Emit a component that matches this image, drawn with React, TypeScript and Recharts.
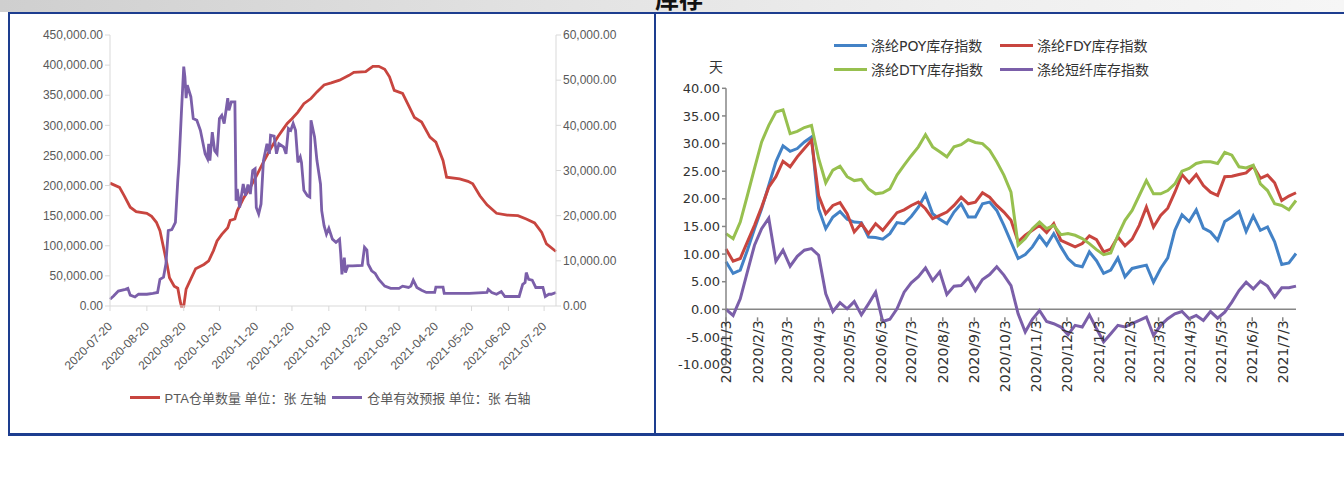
import React from 'react';
import { LineChart, Line, XAxis, YAxis, Legend, ReferenceLine } from 'recharts';

// ---- left chart: PTA warehouse receipts (left axis) and valid forecasts (right axis)
const ptaDates = [
  '2020-07-20', '2020-07-28', '2020-08-01', '2020-08-06', '2020-08-11', '2020-08-20', '2020-08-24', '2020-08-28',
  '2020-08-31', '2020-09-03', '2020-09-06', '2020-09-08', '2020-09-12', '2020-09-15', '2020-09-17', '2020-09-18',
  '2020-09-20', '2020-09-22', '2020-09-26', '2020-09-30', '2020-10-07', '2020-10-11', '2020-10-15', '2020-10-18',
  '2020-10-22', '2020-10-27', '2020-10-29', '2020-11-02', '2020-11-04', '2020-11-09', '2020-11-15', '2020-11-21',
  '2020-11-26', '2020-12-02', '2020-12-08', '2020-12-12', '2020-12-16', '2020-12-20', '2020-12-25', '2020-12-30',
  '2021-01-05', '2021-01-10', '2021-01-16', '2021-01-22', '2021-01-29', '2021-02-06', '2021-02-10', '2021-02-20',
  '2021-02-26', '2021-03-03', '2021-03-08', '2021-03-12', '2021-03-16', '2021-03-23', '2021-03-28', '2021-04-02',
  '2021-04-08', '2021-04-15', '2021-04-20', '2021-04-26', '2021-04-29', '2021-05-10', '2021-05-17', '2021-05-21',
  '2021-05-27', '2021-06-02', '2021-06-10', '2021-06-19', '2021-06-28', '2021-07-05', '2021-07-12', '2021-07-18',
  '2021-07-22', '2021-07-30',
];
const ptaValues = [
  204000, 197000, 183000, 164000, 156700, 154000, 149000, 139000,
  125000, 97000, 69000, 47000, 33000, 29500, 8000, 0,
  0, 28000, 45000, 62000, 69000, 75000, 92000, 108000,
  119000, 130000, 142000, 144500, 158000, 178000, 197000, 219500,
  239000, 261000, 280500, 292000, 303000, 311000, 322000, 336000,
  344500, 355500, 367000, 370500, 375000, 383000, 388000, 389000,
  398000, 398000, 393000, 380500, 358000, 353000, 333000, 313000,
  305500, 280500, 272000, 241700, 214000, 211000, 207000, 203000,
  183000, 168000, 154000, 151000, 150000, 144500, 138000, 122000,
  103000, 90500,
];
const forecastDates = [
  '2020-07-20', '2020-07-23', '2020-07-27', '2020-08-02', '2020-08-04', '2020-08-06', '2020-08-10', '2020-08-13',
  '2020-08-20', '2020-08-25', '2020-08-29', '2020-08-31', '2020-09-03', '2020-09-05', '2020-09-07', '2020-09-10',
  '2020-09-13', '2020-09-15', '2020-09-16', '2020-09-18', '2020-09-20', '2020-09-21', '2020-09-22', '2020-09-23',
  '2020-09-26', '2020-09-28', '2020-10-01', '2020-10-04', '2020-10-08', '2020-10-10', '2020-10-11', '2020-10-12',
  '2020-10-14', '2020-10-16', '2020-10-18', '2020-10-20', '2020-10-22', '2020-10-24', '2020-10-27', '2020-10-28',
  '2020-10-30', '2020-11-02', '2020-11-03', '2020-11-04', '2020-11-06', '2020-11-09', '2020-11-11', '2020-11-13',
  '2020-11-15', '2020-11-17', '2020-11-19', '2020-11-20', '2020-11-22', '2020-11-24', '2020-11-26', '2020-11-29',
  '2020-12-01', '2020-12-02', '2020-12-05', '2020-12-07', '2020-12-09', '2020-12-13', '2020-12-15', '2020-12-17',
  '2020-12-19', '2020-12-21', '2020-12-23', '2020-12-25', '2020-12-27', '2020-12-28', '2020-12-30', '2021-01-02',
  '2021-01-04', '2021-01-05', '2021-01-08', '2021-01-10', '2021-01-13', '2021-01-14', '2021-01-16', '2021-01-18',
  '2021-01-20', '2021-01-23', '2021-01-26', '2021-01-29', '2021-01-30', '2021-01-31', '2021-02-02', '2021-02-03',
  '2021-02-05', '2021-02-09', '2021-02-17', '2021-02-19', '2021-02-21', '2021-02-22', '2021-02-25', '2021-02-28',
  '2021-03-03', '2021-03-08', '2021-03-13', '2021-03-20', '2021-03-23', '2021-03-28', '2021-03-30', '2021-04-01',
  '2021-04-04', '2021-04-08', '2021-04-12', '2021-04-19', '2021-04-20', '2021-04-26', '2021-04-27', '2021-05-18',
  '2021-06-02', '2021-06-03', '2021-06-06', '2021-06-10', '2021-06-14', '2021-06-17', '2021-06-29', '2021-07-02',
  '2021-07-04', '2021-07-05', '2021-07-07', '2021-07-10', '2021-07-13', '2021-07-19', '2021-07-21', '2021-07-24',
  '2021-07-26', '2021-07-30',
];
const forecastValues = [
  1500, 2200, 3300, 3700, 3900, 2400, 2000, 2600,
  2600, 2800, 3000, 5900, 6400, 9300, 16700, 16900,
  18500, 27800, 31500, 42600, 53000, 50700, 46000, 48900,
  46300, 41500, 41100, 38900, 33700, 32600, 35900, 32200,
  38500, 34400, 33700, 41500, 42200, 40400, 46000, 43300,
  45200, 45200, 23300, 25900, 21800, 27000, 24400, 26900,
  24800, 30000, 30400, 21800, 20400, 22600, 32200, 35900,
  33700, 37800, 37600, 33700, 35900, 35200, 33700, 39300,
  38900, 40400, 38900, 31800, 33000, 31800, 25600, 24400,
  24100, 41100, 37400, 32200, 27000, 21100, 17800, 15900,
  17200, 14800, 14100, 14800, 11500, 7000, 10700, 7400,
  8900, 8900, 9000, 13000, 12400, 9300, 7800, 7200,
  5900, 4400, 3900, 3900, 4400, 4100, 4400, 5700,
  4100, 3500, 3000, 3000, 4200, 4200, 2800, 2800,
  3000, 3700, 3000, 2600, 3200, 2100, 2100, 4800,
  5200, 7400, 5900, 5700, 4100, 4100, 2100, 2600,
  2600, 3000,
];
const ptaTickDates = [
  '2020-07-20', '2020-08-20', '2020-09-20', '2020-10-20', '2020-11-20', '2020-12-20', '2021-01-20',
  '2021-02-20', '2021-03-20', '2021-04-20', '2021-05-20', '2021-06-20', '2021-07-20',
];
const leftAxisTicks = [0, 50000, 100000, 150000, 200000, 250000, 300000, 350000, 400000, 450000];
const rightAxisTicks = [0, 10000, 20000, 30000, 40000, 50000, 60000];

// ---- right chart: weekly polyester inventory index (days), Fridays from 2020-01-03
const WEEK_START = '2020-01-03';
const poyIndex = [
  8.6, 6.5, 7.1, 10.7, 14.6, 18.2, 22.4, 26.7, 29.6, 28.6, 29.1, 30.3, 31.2, 18.2, 14.6, 16.7,
  17.7, 16.3, 15.8, 15.7, 13.1, 13.0, 12.7, 13.7, 15.7, 15.5, 16.8, 18.5, 20.8, 17.3, 16.3, 15.5,
  17.6, 19.1, 16.7, 16.7, 19.1, 19.4, 17.9, 15.2, 12.2, 9.2, 9.9, 11.3, 13.3, 11.6, 13.7, 11.3,
  9.2, 8.0, 7.7, 10.4, 8.8, 6.5, 7.1, 9.3, 5.9, 7.4, 7.7, 8.0, 4.9, 7.4, 9.3, 14.3,
  17.1, 15.9, 18.0, 14.7, 14.0, 12.5, 15.9, 16.7, 17.7, 14.1, 16.9, 14.3, 14.9, 12.2, 8.1, 8.4,
  10.1,
];
const fdyIndex = [
  10.9, 8.7, 9.2, 12.2, 15.2, 18.5, 22.1, 24.0, 26.8, 25.8, 27.6, 29.1, 30.6, 20.6, 17.3, 18.8,
  19.3, 17.3, 14.0, 15.5, 13.7, 15.5, 14.3, 15.9, 17.5, 18.0, 18.8, 19.4, 18.2, 16.4, 17.0, 17.6,
  18.8, 20.3, 19.1, 19.4, 21.1, 20.3, 18.8, 17.6, 16.1, 12.2, 13.4, 14.3, 15.2, 13.9, 15.5, 12.5,
  11.9, 11.3, 11.9, 13.3, 12.6, 10.4, 10.9, 13.1, 11.5, 12.7, 15.2, 18.5, 14.9, 17.0, 18.3, 21.2,
  24.4, 22.9, 24.4, 22.4, 21.2, 20.6, 24.0, 24.1, 24.4, 24.7, 25.9, 23.7, 24.3, 22.9, 19.7, 20.5,
  21.1,
];
const dtyIndex = [
  13.7, 12.8, 15.8, 20.6, 25.5, 30.3, 33.3, 35.7, 36.1, 31.8, 32.2, 32.9, 33.3, 27.3, 22.9, 25.2,
  25.9, 24.0, 23.3, 23.5, 21.8, 20.9, 21.1, 21.8, 24.3, 26.1, 27.8, 29.4, 31.6, 29.4, 28.5, 27.6,
  29.4, 29.8, 30.7, 30.2, 30.0, 28.8, 26.7, 24.3, 21.2, 11.6, 12.8, 14.6, 15.8, 14.6, 15.2, 13.5,
  13.7, 13.4, 12.8, 11.9, 10.8, 9.9, 10.2, 13.4, 16.1, 17.9, 20.6, 23.3, 20.9, 20.9, 21.5, 22.7,
  25.0, 25.5, 26.4, 26.7, 26.7, 26.4, 28.4, 27.9, 25.8, 25.6, 26.1, 22.7, 21.5, 19.1, 18.8, 18.0,
  19.7,
];
const staIndex = [
  0.0, -1.1, 1.9, 6.8, 11.6, 14.6, 16.5, 8.7, 10.7, 7.8, 9.6, 10.7, 11.0, 9.8, 2.8, -0.4,
  1.2, 0.1, 1.4, -1.0, 1.0, 3.1, -2.2, -1.8, 0.1, 3.1, 4.8, 5.9, 7.5, 5.2, 6.8, 2.7,
  4.2, 4.3, 5.7, 3.4, 5.4, 6.3, 7.7, 6.2, 4.3, -0.8, -4.1, -1.8, -0.2, -2.2, -2.6, -3.2,
  -4.6, -2.9, -3.2, -1.0, -3.5, -5.9, -4.4, -2.9, -3.2, -2.6, -2.0, -1.4, -4.7, -2.9, -1.7, -0.8,
  -0.4, -1.7, -1.1, -2.0, -0.4, -1.6, -0.5, 1.3, 3.4, 4.9, 3.7, 5.1, 4.2, 2.2, 3.9, 3.9,
  4.2,
];
const monthTickDates = [
  '2020-01-03', '2020-02-03', '2020-03-03', '2020-04-03', '2020-05-03', '2020-06-03', '2020-07-03',
  '2020-08-03', '2020-09-03', '2020-10-03', '2020-11-03', '2020-12-03', '2021-01-03', '2021-02-03',
  '2021-03-03', '2021-04-03', '2021-05-03', '2021-06-03', '2021-07-03',
];
const dayTicks = [40, 35, 30, 25, 20, 15, 10, 5, 0, -5, -10];

const DAY = 86400000;
const t = (s: string) => Date.parse(s);

const ptaSeries = ptaDates.map((d, i) => ({ t: t(d), v: ptaValues[i] }));
const forecastSeries = forecastDates.map((d, i) => ({ t: t(d), v: forecastValues[i] }));
const weeklyData = poyIndex.map((v, i) => ({
  t: t(WEEK_START) + i * 7 * DAY,
  poy: v,
  fdy: fdyIndex[i],
  dty: dtyIndex[i],
  sta: staIndex[i],
}));

const RED = '#c8453f';
const PURPLE = '#7b5fa9';
const BLUE = '#4382c6';
const GREEN = '#97c04f';
const NAVY = '#1d3d8f';

const LEFT_FONT = "'Liberation Sans', 'Noto Sans CJK SC', sans-serif";
const RIGHT_FONT = "'DejaVu Sans', 'Noto Sans CJK SC', sans-serif";

// right chart layout, the x axis labels sit on the zero line
const R_W = 684;
const R_H = 420;
const R_TOP = 75.3;
const R_PLOT_H = 276.3;
const R_MIN = -10;
const R_MAX = 40;
const ZERO_SHIFT = (R_PLOT_H * (0 - R_MIN)) / (R_MAX - R_MIN);

const money = (v: number) => v.toLocaleString('en-US', { minimumFractionDigits: 2, maximumFractionDigits: 2 });
const slashDate = (v: number) => {
  const d = new Date(v);
  return `${d.getUTCFullYear()}/${d.getUTCMonth() + 1}/${d.getUTCDate()}`;
};

const PtaTick = (props: any) => {
  const { x, y, payload } = props;
  return (
    <text
      transform={`translate(${x + 3},${y + 14}) rotate(-45)`}
      textAnchor="end"
      fill="#595959"
      fontSize={12}
      fontFamily={LEFT_FONT}
    >
      {new Date(payload.value).toISOString().slice(0, 10)}
    </text>
  );
};

const WeekTick = (props: any) => {
  const { x, y, payload } = props;
  return (
    <g transform={`translate(${x},${y - ZERO_SHIFT})`}>
      <line x1={0} y1={0} x2={0} y2={4} stroke="#868686" strokeWidth={1.5} />
      <text
        transform="rotate(-90)"
        x={-3}
        y={5}
        textAnchor="end"
        fill="#333"
        fontSize={14}
        fontFamily={RIGHT_FONT}
      >
        {slashDate(payload.value)}
      </text>
    </g>
  );
};

const Swatch = ({ color }: { color: string }) => (
  <span style={{ display: 'inline-block', width: 30, height: 3, background: color, marginRight: 5 }} />
);

const LeftLegend = () => (
  <div
    style={{
      display: 'flex',
      justifyContent: 'center',
      alignItems: 'center',
      fontSize: 13,
      color: '#595959',
      fontFamily: LEFT_FONT,
      whiteSpace: 'nowrap',
    }}
  >
    <Swatch color={RED} />
    <span>PTA仓单数量 单位：张 左轴</span>
    <span style={{ width: 6 }} />
    <Swatch color={PURPLE} />
    <span>仓单有效预报 单位：张 右轴</span>
  </div>
);

const rightLegendItems = [
  { name: '涤纶POY库存指数', color: BLUE },
  { name: '涤纶FDY库存指数', color: RED },
  { name: '涤纶DTY库存指数', color: GREEN },
  { name: '涤纶短纤库存指数', color: PURPLE },
];

const RightLegend = () => (
  <div
    style={{
      display: 'grid',
      gridTemplateColumns: '166px 170px',
      rowGap: 4,
      fontSize: 14,
      color: '#333',
      fontFamily: RIGHT_FONT,
      whiteSpace: 'nowrap',
    }}
  >
    {rightLegendItems.map((it) => (
      <div key={it.name} style={{ display: 'flex', alignItems: 'center', height: 20 }}>
        <span style={{ display: 'inline-block', width: 33, height: 3, background: it.color, marginRight: 4 }} />
        <span>{it.name}</span>
      </div>
    ))}
  </div>
);

export default function App() {
  return (
    <div
      style={{
        position: 'absolute',
        left: 0,
        top: 0,
        width: 1344,
        height: 484,
        background: '#fff',
        overflow: 'hidden',
      }}
    >
      {/* header band with the cut-off section title */}
      <div
        style={{
          position: 'absolute',
          left: 0,
          top: 0,
          width: 1344,
          height: 12,
          overflow: 'hidden',
          background: 'linear-gradient(to right, #cfcfcf, #e4e4e4 45%, #eeeeee 70%, #f6f6f6)',
        }}
      >
        <div
          style={{
            position: 'absolute',
            left: 655,
            top: -15,
            fontSize: 24,
            lineHeight: '26px',
            fontWeight: 'bold',
            color: '#111',
            fontFamily: "'Noto Sans CJK SC', sans-serif",
          }}
        >
          库存
        </div>
      </div>
      <div style={{ position: 'absolute', left: 8, top: 12, width: 1336, height: 2, background: NAVY }} />
      <div style={{ position: 'absolute', left: 8, top: 12, width: 2, height: 424, background: NAVY }} />
      <div style={{ position: 'absolute', left: 654, top: 12, width: 1.5, height: 424, background: NAVY }} />
      <div style={{ position: 'absolute', left: 8, top: 433, width: 1336, height: 3, background: NAVY }} />

      {/* left chart */}
      <div style={{ position: 'absolute', left: 10, top: 14 }}>
        <LineChart width={640} height={420} margin={{ top: 21, right: 14, bottom: 0, left: 0 }}>
          <XAxis
            dataKey="t"
            type="number"
            domain={[t(ptaTickDates[0]), t(ptaDates[ptaDates.length - 1])]}
            ticks={ptaTickDates.map(t)}
            tick={<PtaTick />}
            height={128}
            axisLine={{ stroke: '#d9d9d9' }}
            tickLine={{ stroke: '#d9d9d9' }}
            tickSize={5}
            interval={0}
          />
          <YAxis
            yAxisId="left"
            domain={[0, 450000]}
            ticks={leftAxisTicks}
            tickFormatter={money}
            width={100}
            tick={{ fill: '#595959', fontSize: 12, fontFamily: LEFT_FONT }}
            axisLine={{ stroke: '#d9d9d9' }}
            tickLine={{ stroke: '#d9d9d9' }}
            tickSize={5}
            interval={0}
          />
          <YAxis
            yAxisId="right"
            orientation="right"
            domain={[0, 60000]}
            ticks={rightAxisTicks}
            tickFormatter={money}
            width={80}
            tick={{ fill: '#595959', fontSize: 12, fontFamily: LEFT_FONT }}
            axisLine={{ stroke: '#d9d9d9' }}
            tickLine={{ stroke: '#d9d9d9' }}
            tickSize={5}
            interval={0}
          />
          <Legend
            content={<LeftLegend />}
            verticalAlign="middle"
            align="center"
            layout="horizontal"
            wrapperStyle={{ top: 374, left: 0, width: 640 }}
          />
          <Line
            yAxisId="left"
            data={ptaSeries}
            dataKey="v"
            stroke={RED}
            strokeWidth={2.8}
            dot={false}
            isAnimationActive={false}
          />
          <Line
            yAxisId="right"
            data={forecastSeries}
            dataKey="v"
            stroke={PURPLE}
            strokeWidth={2.8}
            dot={false}
            isAnimationActive={false}
          />
        </LineChart>
      </div>

      {/* right chart */}
      <div style={{ position: 'absolute', left: 660, top: 13 }}>
        <LineChart
          width={R_W}
          height={R_H}
          data={weeklyData}
          margin={{ top: R_TOP, right: 48, bottom: 0, left: 6 }}
        >
          <XAxis
            dataKey="t"
            type="number"
            domain={['dataMin', 'dataMax']}
            ticks={monthTickDates.map(t)}
            tick={<WeekTick />}
            height={R_H - R_TOP - R_PLOT_H}
            axisLine={false}
            tickLine={false}
            interval={0}
          />
          <YAxis
            domain={[R_MIN, R_MAX]}
            ticks={dayTicks}
            tickFormatter={(v: number) => v.toFixed(2)}
            width={60}
            tick={{ fill: '#333', fontSize: 13, fontFamily: RIGHT_FONT }}
            axisLine={{ stroke: '#868686', strokeWidth: 1.5 }}
            tickLine={{ stroke: '#868686', strokeWidth: 1.5 }}
            tickSize={4}
            interval={0}
            label={{
              content: (p: any) => (
                <text
                  x={p.viewBox.x + p.viewBox.width - 10}
                  y={p.viewBox.y - 16}
                  textAnchor="middle"
                  fill="#333"
                  fontSize={14}
                  fontFamily={RIGHT_FONT}
                >
                  天
                </text>
              ),
            }}
          />
          <ReferenceLine y={0} stroke="#868686" strokeWidth={1.5} />
          <Legend
            content={<RightLegend />}
            verticalAlign="middle"
            align="center"
            layout="horizontal"
            wrapperStyle={{ top: 22, left: 174, width: 340 }}
          />
          <Line dataKey="poy" name="涤纶POY库存指数" stroke={BLUE} strokeWidth={3} dot={false} isAnimationActive={false} />
          <Line dataKey="fdy" name="涤纶FDY库存指数" stroke={RED} strokeWidth={3} dot={false} isAnimationActive={false} />
          <Line dataKey="dty" name="涤纶DTY库存指数" stroke={GREEN} strokeWidth={3} dot={false} isAnimationActive={false} />
          <Line dataKey="sta" name="涤纶短纤库存指数" stroke={PURPLE} strokeWidth={3} dot={false} isAnimationActive={false} />
        </LineChart>
      </div>
    </div>
  );
}
